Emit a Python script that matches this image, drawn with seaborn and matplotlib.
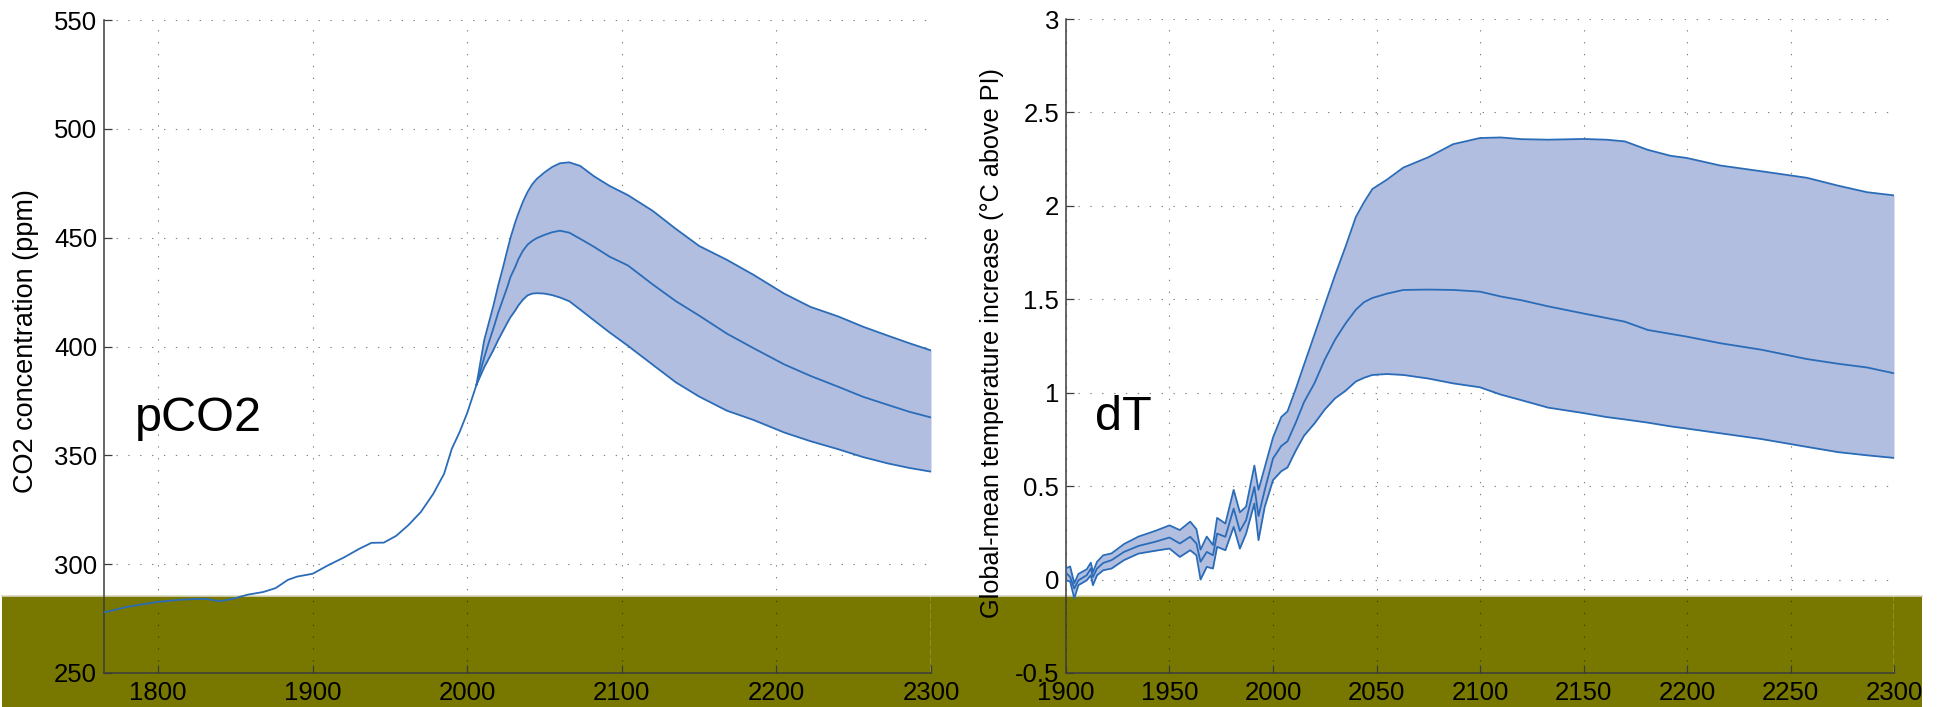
import numpy as np
import pandas as pd
import matplotlib
matplotlib.use("Agg")
import matplotlib.pyplot as plt
from matplotlib.patches import Rectangle
from matplotlib.lines import Line2D
import seaborn as sns

# ---------------- data ----------------
# Left panel: atmospheric CO2 (ppm)
hist_year = [1765, 1780, 1800, 1815, 1830, 1840, 1848, 1858, 1868, 1876, 1884, 1890,
             1900, 1910, 1920, 1930, 1938, 1946, 1954, 1962, 1970, 1978, 1985, 1990,
             1995, 2000, 2006]
hist_co2 = [277.8, 280.4, 282.7, 283.7, 284.1, 283.0, 284.0, 286.0, 287.2, 289.0, 292.8, 294.3,
            295.6, 299.5, 303.0, 307.0, 309.8, 309.9, 313.0, 318.0, 324.0, 332.3, 341.5, 353.0,
            360.6, 369.5, 382.5]

fut_year = [2006, 2011, 2014, 2017, 2020, 2023, 2026, 2028, 2031, 2033, 2036, 2039, 2042, 2045,
            2050, 2055, 2060, 2066, 2073, 2082, 2092, 2104, 2120, 2135, 2150, 2168, 2185, 2205,
            2222, 2240, 2256, 2272, 2286, 2300]
co2_upper = [382.5, 403.0, 411.0, 419.0, 428.0, 436.0, 444.5, 450.0, 457.0, 461.0, 466.5, 471.0,
             474.5, 477.0, 480.0, 482.5, 484.2, 484.6, 483.0, 478.2, 473.8, 469.5, 462.3, 454.0,
             446.2, 439.8, 433.0, 424.3, 418.2, 413.8, 409.1, 405.0, 401.5, 398.2]
co2_median = [382.5, 395.0, 402.0, 408.5, 415.5, 421.5, 427.5, 432.0, 436.5, 440.0, 444.0, 446.8,
              448.5, 449.8, 451.3, 452.5, 453.2, 452.3, 449.5, 445.8, 441.3, 437.2, 428.5, 420.8,
              414.2, 405.9, 399.3, 391.8, 386.5, 381.5, 376.9, 373.2, 370.0, 367.4]
co2_lower = [382.5, 390.5, 394.5, 398.5, 403.0, 407.0, 411.0, 413.5, 416.5, 418.8, 421.5, 423.5,
             424.3, 424.5, 424.3, 423.6, 422.5, 420.8, 417.0, 412.0, 406.5, 400.3, 391.6, 383.5,
             377.0, 370.5, 366.3, 360.5, 356.5, 352.8, 349.2, 346.3, 344.2, 342.5]

# Right panel: global-mean temperature increase (degC above PI)
t_year = [1900, 1902, 1904, 1906, 1910, 1912, 1913, 1915, 1918, 1922, 1928, 1935, 1943, 1950,
          1955, 1960, 1963, 1965, 1968, 1971, 1973, 1977, 1981, 1984, 1987, 1991, 1993, 1996,
          2000, 2004, 2007, 2011, 2015, 2020, 2025, 2030, 2035, 2040, 2044, 2048, 2055, 2063,
          2075, 2087, 2100, 2110, 2120, 2133, 2150, 2161, 2170, 2181, 2192, 2200, 2216, 2236,
          2258, 2273, 2287, 2300]
t_upper = [0.060, 0.070, -0.020, 0.030, 0.055, 0.090, 0.040, 0.095, 0.130, 0.140, 0.190, 0.230,
           0.260, 0.290, 0.265, 0.310, 0.270, 0.160, 0.230, 0.185, 0.330, 0.300, 0.480, 0.360,
           0.390, 0.610, 0.480, 0.600, 0.760, 0.870, 0.900, 1.020, 1.150, 1.310, 1.470, 1.630,
           1.780, 1.940, 2.020, 2.090, 2.140, 2.205, 2.260, 2.330, 2.363, 2.366, 2.357, 2.354,
           2.358, 2.354, 2.345, 2.300, 2.268, 2.256, 2.216, 2.185, 2.150, 2.108, 2.073, 2.056]
t_median = [0.036, 0.014, -0.048, -0.004, 0.023, 0.059, 0.014, 0.059, 0.089, 0.104, 0.148, 0.180,
            0.202, 0.225, 0.193, 0.229, 0.193, 0.095, 0.148, 0.130, 0.246, 0.229, 0.380, 0.260,
            0.318, 0.496, 0.340, 0.479, 0.648, 0.715, 0.740, 0.840, 0.950, 1.050, 1.177, 1.284,
            1.370, 1.444, 1.485, 1.507, 1.530, 1.550, 1.552, 1.550, 1.541, 1.515, 1.495, 1.462,
            1.424, 1.400, 1.380, 1.336, 1.315, 1.300, 1.265, 1.230, 1.180, 1.155, 1.135, 1.104]
t_lower = [-0.004, -0.010, -0.100, -0.030, -0.004, 0.023, -0.030, 0.023, 0.050, 0.059, 0.104, 0.139,
           0.154, 0.166, 0.121, 0.157, 0.130, 0.000, 0.068, 0.059, 0.175, 0.157, 0.282, 0.166,
           0.246, 0.407, 0.211, 0.389, 0.532, 0.580, 0.600, 0.690, 0.770, 0.835, 0.910, 0.970,
           1.010, 1.060, 1.080, 1.095, 1.100, 1.095, 1.076, 1.050, 1.029, 0.990, 0.960, 0.920,
           0.891, 0.870, 0.857, 0.840, 0.820, 0.808, 0.783, 0.752, 0.710, 0.682, 0.665, 0.651]

co2_xticks = [1800, 1900, 2000, 2100, 2200, 2300]
co2_yticks = [250, 300, 350, 400, 450, 500, 550]
t_xticks = [1900, 1950, 2000, 2050, 2100, 2150, 2200, 2250, 2300]
t_yticks = [-0.5, 0, 0.5, 1, 1.5, 2, 2.5, 3]
t_yticklabels = ["-0.5", "0", "0.5", "1", "1.5", "2", "2.5", "3"]

# ---------------- style ----------------
plt.rcParams['font.family'] = ['Liberation Sans', 'DejaVu Sans']
LINE = '#2b6cb8'
FILL = '#b1bee0'
OLIVE = '#787800'
SPINE = '#3c3c3c'

W, H = 1938, 707
fig = plt.figure(figsize=(W / 100, H / 100), dpi=100)
fig.patch.set_facecolor('white')

# olive band behind the axes
fig.patches.append(Rectangle((2 / W, 0), 1920 / W, 111 / H, transform=fig.transFigure,
                             facecolor=OLIVE, edgecolor='none', zorder=-10))
fig.lines.append(Line2D([2 / W, 1922 / W], [111.5 / H, 111.5 / H], transform=fig.transFigure,
                        color='#d8d5c0', lw=1.2, zorder=-9))

ax1 = fig.add_axes([104 / W, 34 / H, 827 / W, 653 / H])
ax2 = fig.add_axes([1066 / W, 34 / H, 828 / W, 654 / H])


def style_axes(ax):
    ax.set_facecolor('none')
    ax.set_axisbelow(True)
    ax.grid(True, linestyle=(0, (1.2, 9.5)), linewidth=0.8, color='k', alpha=0.5)
    for s in ['top', 'right']:
        ax.spines[s].set_visible(False)
    for s in ['left', 'bottom']:
        ax.spines[s].set_color(SPINE)
        ax.spines[s].set_linewidth(1.1)
    ax.tick_params(direction='in', length=5.5, width=0.9, color=SPINE,
                   labelsize=18.5, labelcolor='black')
    ax.tick_params(axis='x', pad=5.5)
    ax.tick_params(axis='y', pad=5)


# ---- left panel: pCO2 ----
ax = ax1
ax.fill_between(fut_year, co2_lower, co2_upper, color=FILL, linewidth=0, zorder=1)
sns.lineplot(x=hist_year, y=hist_co2, ax=ax, color=LINE, linewidth=1.3, zorder=3)
for series in (co2_upper, co2_median, co2_lower):
    sns.lineplot(x=fut_year, y=series, ax=ax, color=LINE, linewidth=1.3, zorder=3)
ax.set_xlim(1765, 2300)
ax.set_ylim(250, 550)
ax.set_xticks(co2_xticks)
ax.set_yticks(co2_yticks)
style_axes(ax)
ax.set_xlabel('')
ax.set_ylabel('CO2 concentration (ppm)', fontsize=19.5)
ax.yaxis.set_label_coords(-0.0786, 0.508)
ax.text(0.0375, 0.3706, 'pCO2', transform=ax.transAxes, fontsize=35,
        ha='left', va='baseline')
ax.axvline(2300, ymin=0, ymax=0.118, color='#ecebd8', lw=1.0, ls=(0, (5, 1.5)), zorder=2)

# ---- right panel: dT ----
ax = ax2
ax.fill_between(t_year, t_lower, t_upper, color=FILL, linewidth=0, zorder=1)
for series in (t_upper, t_median, t_lower):
    sns.lineplot(x=t_year, y=series, ax=ax, color=LINE, linewidth=1.3, zorder=3)
ax.set_xlim(1900, 2300)
ax.set_ylim(-0.5, 3)
ax.set_xticks(t_xticks)
ax.set_yticks(t_yticks)
ax.set_yticklabels(t_yticklabels)
style_axes(ax)
ax.set_xlabel('')
ax.set_ylabel('Global-mean temperature increase (°C above PI)', fontsize=18.2)
ax.yaxis.set_label_coords(-0.0749, 0.505)
ax.text(0.035, 0.372, 'dT', transform=ax.transAxes, fontsize=35,
        ha='left', va='baseline')
ax.axvline(2300, ymin=0, ymax=0.118, color='#ecebd8', lw=1.0, ls=(0, (5, 1.5)), zorder=2)

fig.savefig('out.png', dpi=100)
